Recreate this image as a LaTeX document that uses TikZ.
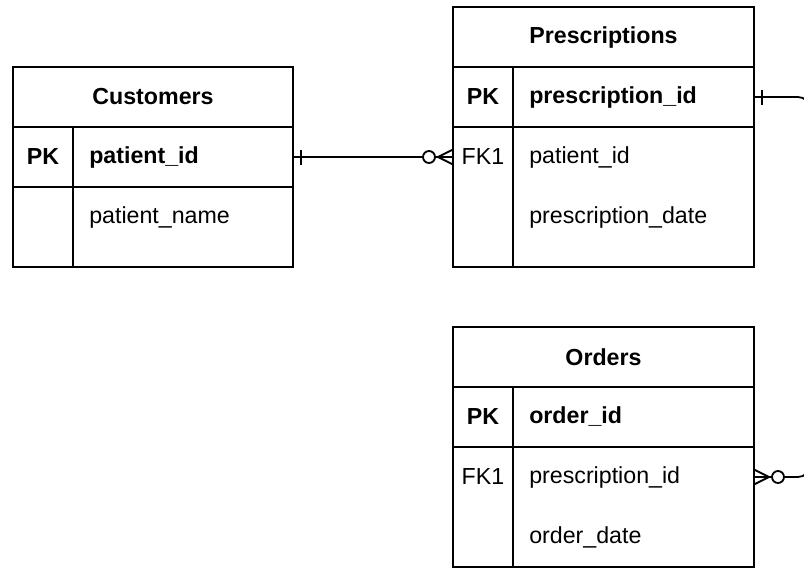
\documentclass[tikz,border=0pt]{standalone}
\usepackage{fontspec}
\setmainfont{Liberation Sans}
\usetikzlibrary{positioning, calc}

\newcommand{\pxu}{0.025cm}
\newcommand{\erfont}{\fontsize{16.5}{19.8}\selectfont}
\tikzset{
  cell/.style={draw, line width=1.3pt, inner sep=0pt, outer sep=0pt, minimum height=60*\pxu},
  hdr/.style={cell, font=\erfont\bfseries},
  keycell/.style={cell, minimum width=60*\pxu},
  fldcell/.style={cell, minimum width=#1*\pxu},
  fldtxt/.style={inner sep=0pt, anchor=west},
  keytxt/.style={fldtxt, font=\erfont\bfseries},
  conn/.style={line width=1.3pt},
}

\begin{document}
\begin{tikzpicture}[x=\pxu, y=-\pxu, font=\erfont]
  \useasboundingbox (0,0) rectangle (804,586);
  \clip (0,0) rectangle (804,586);

  % Customers
  \node[hdr, minimum width=280*\pxu, anchor=north west] (cust) at (13,67) {Customers};
  \node[keycell, anchor=north west] (custpk) at (cust.south west) {\bfseries PK};
  \node[fldcell=220, right=0pt of custpk] (custid) {};
  \node[keycell, minimum height=80*\pxu, below=0pt of custpk] (custbk) {};
  \node[fldcell=220, minimum height=80*\pxu, right=0pt of custbk] (custbd) {};
  \node[keytxt] (cid) at ($(custid.west)+(16,0)$) {patient\_id};
  \node[fldtxt] (cname) at ($(custbd.north west)+(16,30)$) {patient\_name};

  % Prescriptions
  \node[hdr, minimum width=301*\pxu, anchor=north west] (pres) at (453,7) {Prescriptions};
  \node[keycell, anchor=north west] (prespk) at (pres.south west) {\bfseries PK};
  \node[fldcell=241, right=0pt of prespk] (presid) {};
  \node[keycell, minimum height=140*\pxu, below=0pt of prespk] (presbk) {};
  \node[fldcell=241, minimum height=140*\pxu, right=0pt of presbk] (presbd) {};
  \node[keytxt] (pid) at ($(presid.west)+(16,0)$) {prescription\_id};
  \node (pfk) at ($(presbk.north)+(0,30)$) {FK1};
  \node[fldtxt] (ppat) at ($(presbd.north west)+(16,30)$) {patient\_id};
  \node[fldtxt] (pdate) at ($(presbd.north west)+(16,90)$) {prescription\_date};

  % Orders
  \node[hdr, minimum width=301*\pxu, anchor=north west] (ord) at (453,327) {Orders};
  \node[keycell, anchor=north west] (ordpk) at (ord.south west) {\bfseries PK};
  \node[fldcell=241, right=0pt of ordpk] (ordid) {};
  \node[keycell, minimum height=120*\pxu, below=0pt of ordpk] (ordbk) {};
  \node[fldcell=241, minimum height=120*\pxu, right=0pt of ordbk] (ordbd) {};
  \node[keytxt] (oid) at ($(ordid.west)+(16,0)$) {order\_id};
  \node (ofk) at ($(ordbk.north)+(0,30)$) {FK1};
  \node[fldtxt] (opres) at ($(ordbd.north west)+(16,30)$) {prescription\_id};
  \node[fldtxt] (odate) at ($(ordbd.north west)+(16,90)$) {order\_date};

  % connector ends
  \coordinate (fkin) at (presbk.west |- pfk);
  \coordinate (fkout) at (ordbd.east |- opres);

  % Customers -- Prescriptions
  \draw[conn] (custid.east) -- (fkin);
  \draw[conn] ($(custid.east)+(8,-7.5)$) -- ++(0,15);
  \draw[conn] ($(fkin)+(0,-7.5)$) -- ($(fkin)+(-15,0)$) -- ($(fkin)+(0,7.5)$);
  \draw[conn, fill=white] ($(fkin)+(-24,0)$) circle (6);

  % Prescriptions -- Orders
  \draw[conn, rounded corners=12*\pxu] (presid.east) -- ++(56,0) |- (fkout);
  \draw[conn] ($(presid.east)+(8,-7.5)$) -- ++(0,15);
  \draw[conn] ($(fkout)+(0,-7.5)$) -- ($(fkout)+(15,0)$) -- ($(fkout)+(0,7.5)$);
  \draw[conn, fill=white] ($(fkout)+(24,0)$) circle (6);
\end{tikzpicture}
\end{document}
